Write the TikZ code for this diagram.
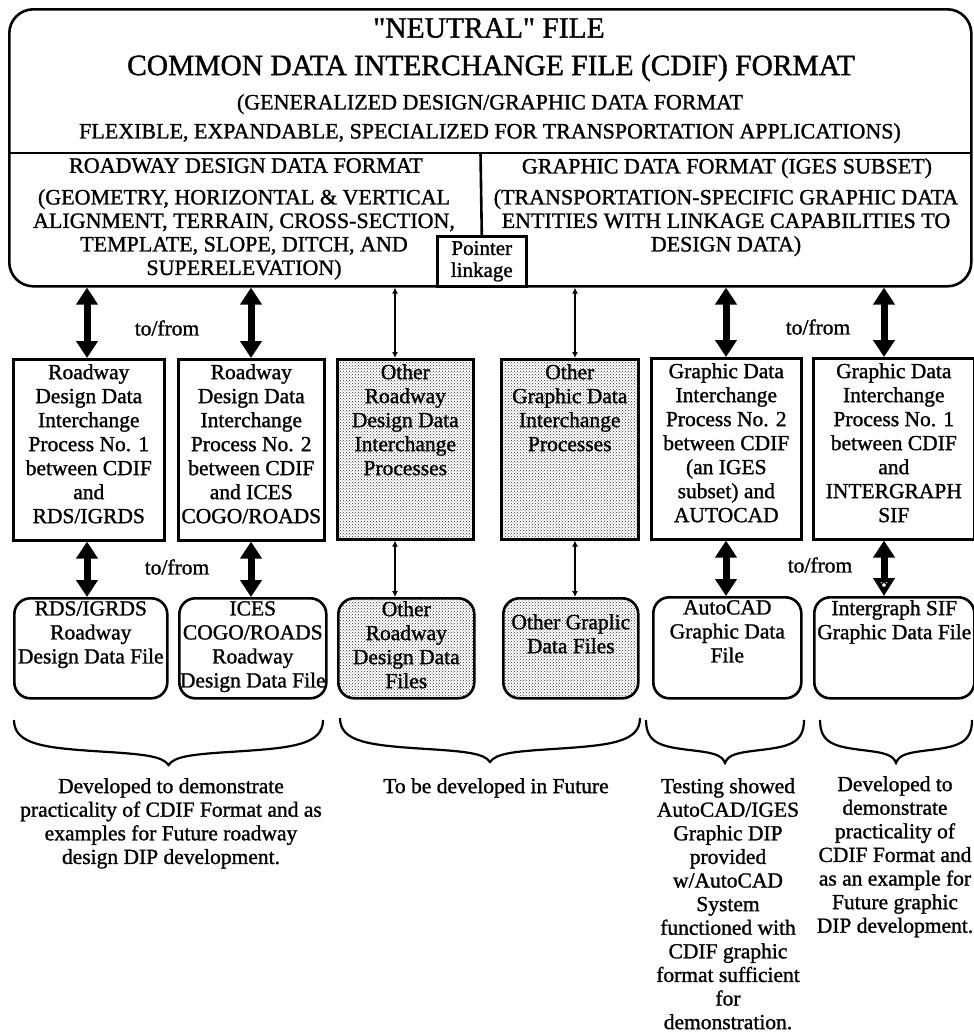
\documentclass[tikz,border=0pt]{standalone}
\usepackage{fontspec}
\setmainfont{Liberation Serif}[FakeBold=1.2]
\usetikzlibrary{arrows.meta,patterns,calc}
\newcommand\mybrace[4]{%
  \pgfmathsetmacro\bM{(#1+#2)/2}%
  \pgfmathsetmacro\bW{#2-#1}%
  \draw[bracestyle] (#1,#3)
    .. controls (#1,{#3+0.55*#4}) and ({#1+0.1*\bW},{#3+0.62*#4}) .. ({#1+0.28*\bW},{#3+0.7*#4})
    .. controls ({\bM-0.08*\bW},{#3+0.76*#4}) and ({\bM-0.02*\bW},{#3+0.8*#4}) .. (\bM,{#3+#4})
    .. controls ({\bM+0.02*\bW},{#3+0.8*#4}) and ({\bM+0.08*\bW},{#3+0.76*#4}) .. ({#2-0.28*\bW},{#3+0.7*#4})
    .. controls ({#2-0.1*\bW},{#3+0.62*#4}) and (#2,{#3+0.55*#4}) .. (#2,#3);
}
\begin{document}
\begin{tikzpicture}[x=1pt,y=-1pt,
  box/.style={draw, line width=2.6pt, rectangle, anchor=north west, inner sep=0pt},
  rbox/.style={box, rounded corners=16pt},
  dotbox/.style={pattern=crosshatch dots, pattern color=black!80},
  txt/.style={font=\fontsize{21.5}{24}\selectfont, align=center, inner sep=0pt, anchor=north},
  bigtxt/.style={font=\fontsize{29.5}{32}\selectfont, inner sep=0pt},
  captxt/.style={font=\fontsize{22}{23.5}\selectfont, align=center, inner sep=0pt, anchor=north},
  dbl/.style={line width=7pt, {Triangle[length=17pt,width=21pt]}-{Triangle[length=17pt,width=21pt]}},
  dblo/.style={line width=7pt, {Triangle[length=17pt,width=21pt]}-{Triangle[open,line width=4pt,length=18pt,width=21pt]}},
  thinc/.style={line width=2.6pt, {Latex[length=6pt,width=6pt]}-{Latex[length=6pt,width=6pt]}},
  bracestyle/.style={line width=2.2pt},
  divline/.style={line width=2.6pt}
]
\useasboundingbox (0,0) rectangle (974,1036);

% top box
\node[rbox, rounded corners=24pt, minimum width=962, minimum height=277] (cdifbox) at (8,8) {};
\coordinate (hl) at (8,153);
\coordinate (hr) at (970,153);
\draw[divline] (hl) -- (hr);
\node[box, minimum width=89, minimum height=50, align=center,
      font=\fontsize{21}{22}\selectfont] (ptr) at (436,235) {Pointer\\linkage};
\coordinate (divtop) at (480.5,153);
\draw[divline] (divtop) -- (ptr.north);

\node[bigtxt] (t1) at (489,28) {\textquotedbl NEUTRAL\textquotedbl{} FILE};
\node[bigtxt] (t2) at (491,68) {COMMON DATA INTERCHANGE FILE (CDIF) FORMAT};
\node[captxt, font=\fontsize{22}{29}\selectfont] (t3) at (490,94)
  {(GENERALIZED DESIGN/GRAPHIC DATA FORMAT\\FLEXIBLE, EXPANDABLE, SPECIALIZED FOR TRANSPORTATION APPLICATIONS)};
\node[captxt] (rdf) at (246,158) {ROADWAY DESIGN DATA FORMAT};
\node[captxt] (rdfd) at (244,189)
  {(GEOMETRY, HORIZONTAL \& VERTICAL\\ALIGNMENT, TERRAIN, CROSS-SECTION,\\TEMPLATE, SLOPE, DITCH, AND\\SUPERELEVATION)};
\node[captxt] (gdf) at (727,158) {GRAPHIC DATA FORMAT (IGES SUBSET)};
\node[captxt] (gdfd) at (726,189)
  {(TRANSPORTATION-SPECIFIC GRAPHIC DATA\\ENTITIES WITH LINKAGE CAPABILITIES TO\\DESIGN DATA)};

% middle boxes
\node[box, minimum width=151, minimum height=181] (p1) at (12,358) {};
\node[box, minimum width=146, minimum height=181] (p2) at (177,358) {};
\node[box, dotbox, minimum width=136, minimum height=180] (p3) at (336,358) {};
\node[box, dotbox, minimum width=137, minimum height=180] (p4) at (500,358) {};
\node[box, minimum width=150, minimum height=181] (p5) at (650,357) {};
\node[box, minimum width=161, minimum height=181] (p6) at (812,357) {};

\node[txt] (p1t) at ($(p1.north)+(0,6)$) {Roadway\\Design Data\\Interchange\\Process No. 1\\between CDIF\\and\\RDS/IGRDS};
\node[txt] (p2t) at ($(p2.north)+(0,6)$) {Roadway\\Design Data\\Interchange\\Process No. 2\\between CDIF\\and ICES\\COGO/ROADS};
\node[txt] (p3t) at ($(p3.north)+(0,6)$) {Other\\Roadway\\Design Data\\Interchange\\Processes};
\node[txt] (p4t) at ($(p4.north)+(0,6)$) {Other\\Graphic Data\\Interchange\\Processes};
\node[txt] (p5t) at ($(p5.north)+(0,6)$) {Graphic Data\\Interchange\\Process No. 2\\between CDIF\\(an IGES\\subset) and\\AUTOCAD};
\node[txt] (p6t) at ($(p6.north)+(0,6)$) {Graphic Data\\Interchange\\Process No. 1\\between CDIF\\and\\INTERGRAPH\\SIF};

% bottom file boxes
\node[rbox, minimum width=153, minimum height=100] (f1) at (13,597) {};
\node[rbox, minimum width=147, minimum height=100] (f2) at (178,597) {};
\node[rbox, dotbox, minimum width=136, minimum height=100] (f3) at (337,597) {};
\node[rbox, dotbox, minimum width=135, minimum height=100] (f4) at (502,597) {};
\node[rbox, minimum width=148, minimum height=101] (f5) at (652,596) {};
\node[rbox, minimum width=160, minimum height=101] (f6) at (813,596) {};

\node[txt] (f1t) at ($(f1.north)+(0,4)$) {RDS/IGRDS\\Roadway\\Design Data File};
\node[txt] (f2t) at ($(f2.north)+(0,4)$) {ICES\\COGO/ROADS\\Roadway\\Design Data File};
\node[txt] (f3t) at ($(f3.north)+(0,4)$) {Other\\Roadway\\Design Data\\Files};
\node[txt] (f4t) at ($(f4.north)+(0,17)$) {Other Graplic\\Data Files};
\node[txt] (f5t) at ($(f5.north)+(0,4)$) {AutoCAD\\Graphic Data\\File};
\node[txt] (f6t) at ($(f6.north)+(0,4)$) {Intergraph SIF\\Graphic Data File};

% connector x positions
\coordinate (a1) at (87,0);
\coordinate (a2) at (251,0);
\coordinate (a3) at (395,0);
\coordinate (a4) at (575,0);
\coordinate (a5) at (726,0);
\coordinate (a6) at (884,0);

\draw[dbl] (cdifbox.south -| a1) -- (p1.north -| a1);
\draw[dbl] (cdifbox.south -| a2) -- (p2.north -| a2);
\draw[thinc] (cdifbox.south -| a3) -- (p3.north -| a3);
\draw[thinc] (cdifbox.south -| a4) -- (p4.north -| a4);
\draw[dbl] (cdifbox.south -| a5) -- (p5.north -| a5);
\draw[dbl] (cdifbox.south -| a6) -- (p6.north -| a6);

\draw[dbl] (p1.south -| a1) -- (f1.north -| a1);
\draw[dbl] (p2.south -| a2) -- (f2.north -| a2);
\draw[thinc] (p3.south -| a3) -- (f3.north -| a3);
\draw[thinc] (p4.south -| a4) -- (f4.north -| a4);
\draw[dbl] (p5.south -| a5) -- (f5.north -| a5);
\draw[dblo] (p6.south -| a6) -- (f6.north -| a6);
\draw[line width=1.2pt, fill=white] ($(f6.north -| a6)+(0,-11)$) circle (2.6pt);

\node[txt, anchor=center] (tf1) at (167,328) {to/from};
\node[txt, anchor=center] (tf2) at (818,327) {to/from};
\node[txt, anchor=center] (tf3) at (177,567) {to/from};
\node[txt, anchor=center] (tf4) at (820,565) {to/from};

% braces
\mybrace{14}{323}{720}{45}
\mybrace{340}{640}{718}{44}
\mybrace{646}{804}{720}{43}
\mybrace{820}{972}{720}{43}

% notes
\node[txt, font=\fontsize{21.5}{23.6}\selectfont] (n1) at (171,778)
  {Developed to demonstrate\\practicality of CDIF Format and as\\examples for Future roadway\\design DIP development.};
\node[txt] (n2) at (496,778) {To be developed in Future};
\node[txt, font=\fontsize{21.5}{23.6}\selectfont] (n3) at (728,778)
  {Testing showed\\AutoCAD/IGES\\Graphic DIP\\provided\\w/AutoCAD\\System\\functioned with\\CDIF graphic\\format sufficient\\for\\demonstration.};
\node[txt, font=\fontsize{21.5}{23.6}\selectfont] (n4) at (895,776)
  {Developed to\\demonstrate\\practicality of\\CDIF Format and\\as an example for\\Future graphic\\DIP development.};
\end{tikzpicture}
\end{document}
